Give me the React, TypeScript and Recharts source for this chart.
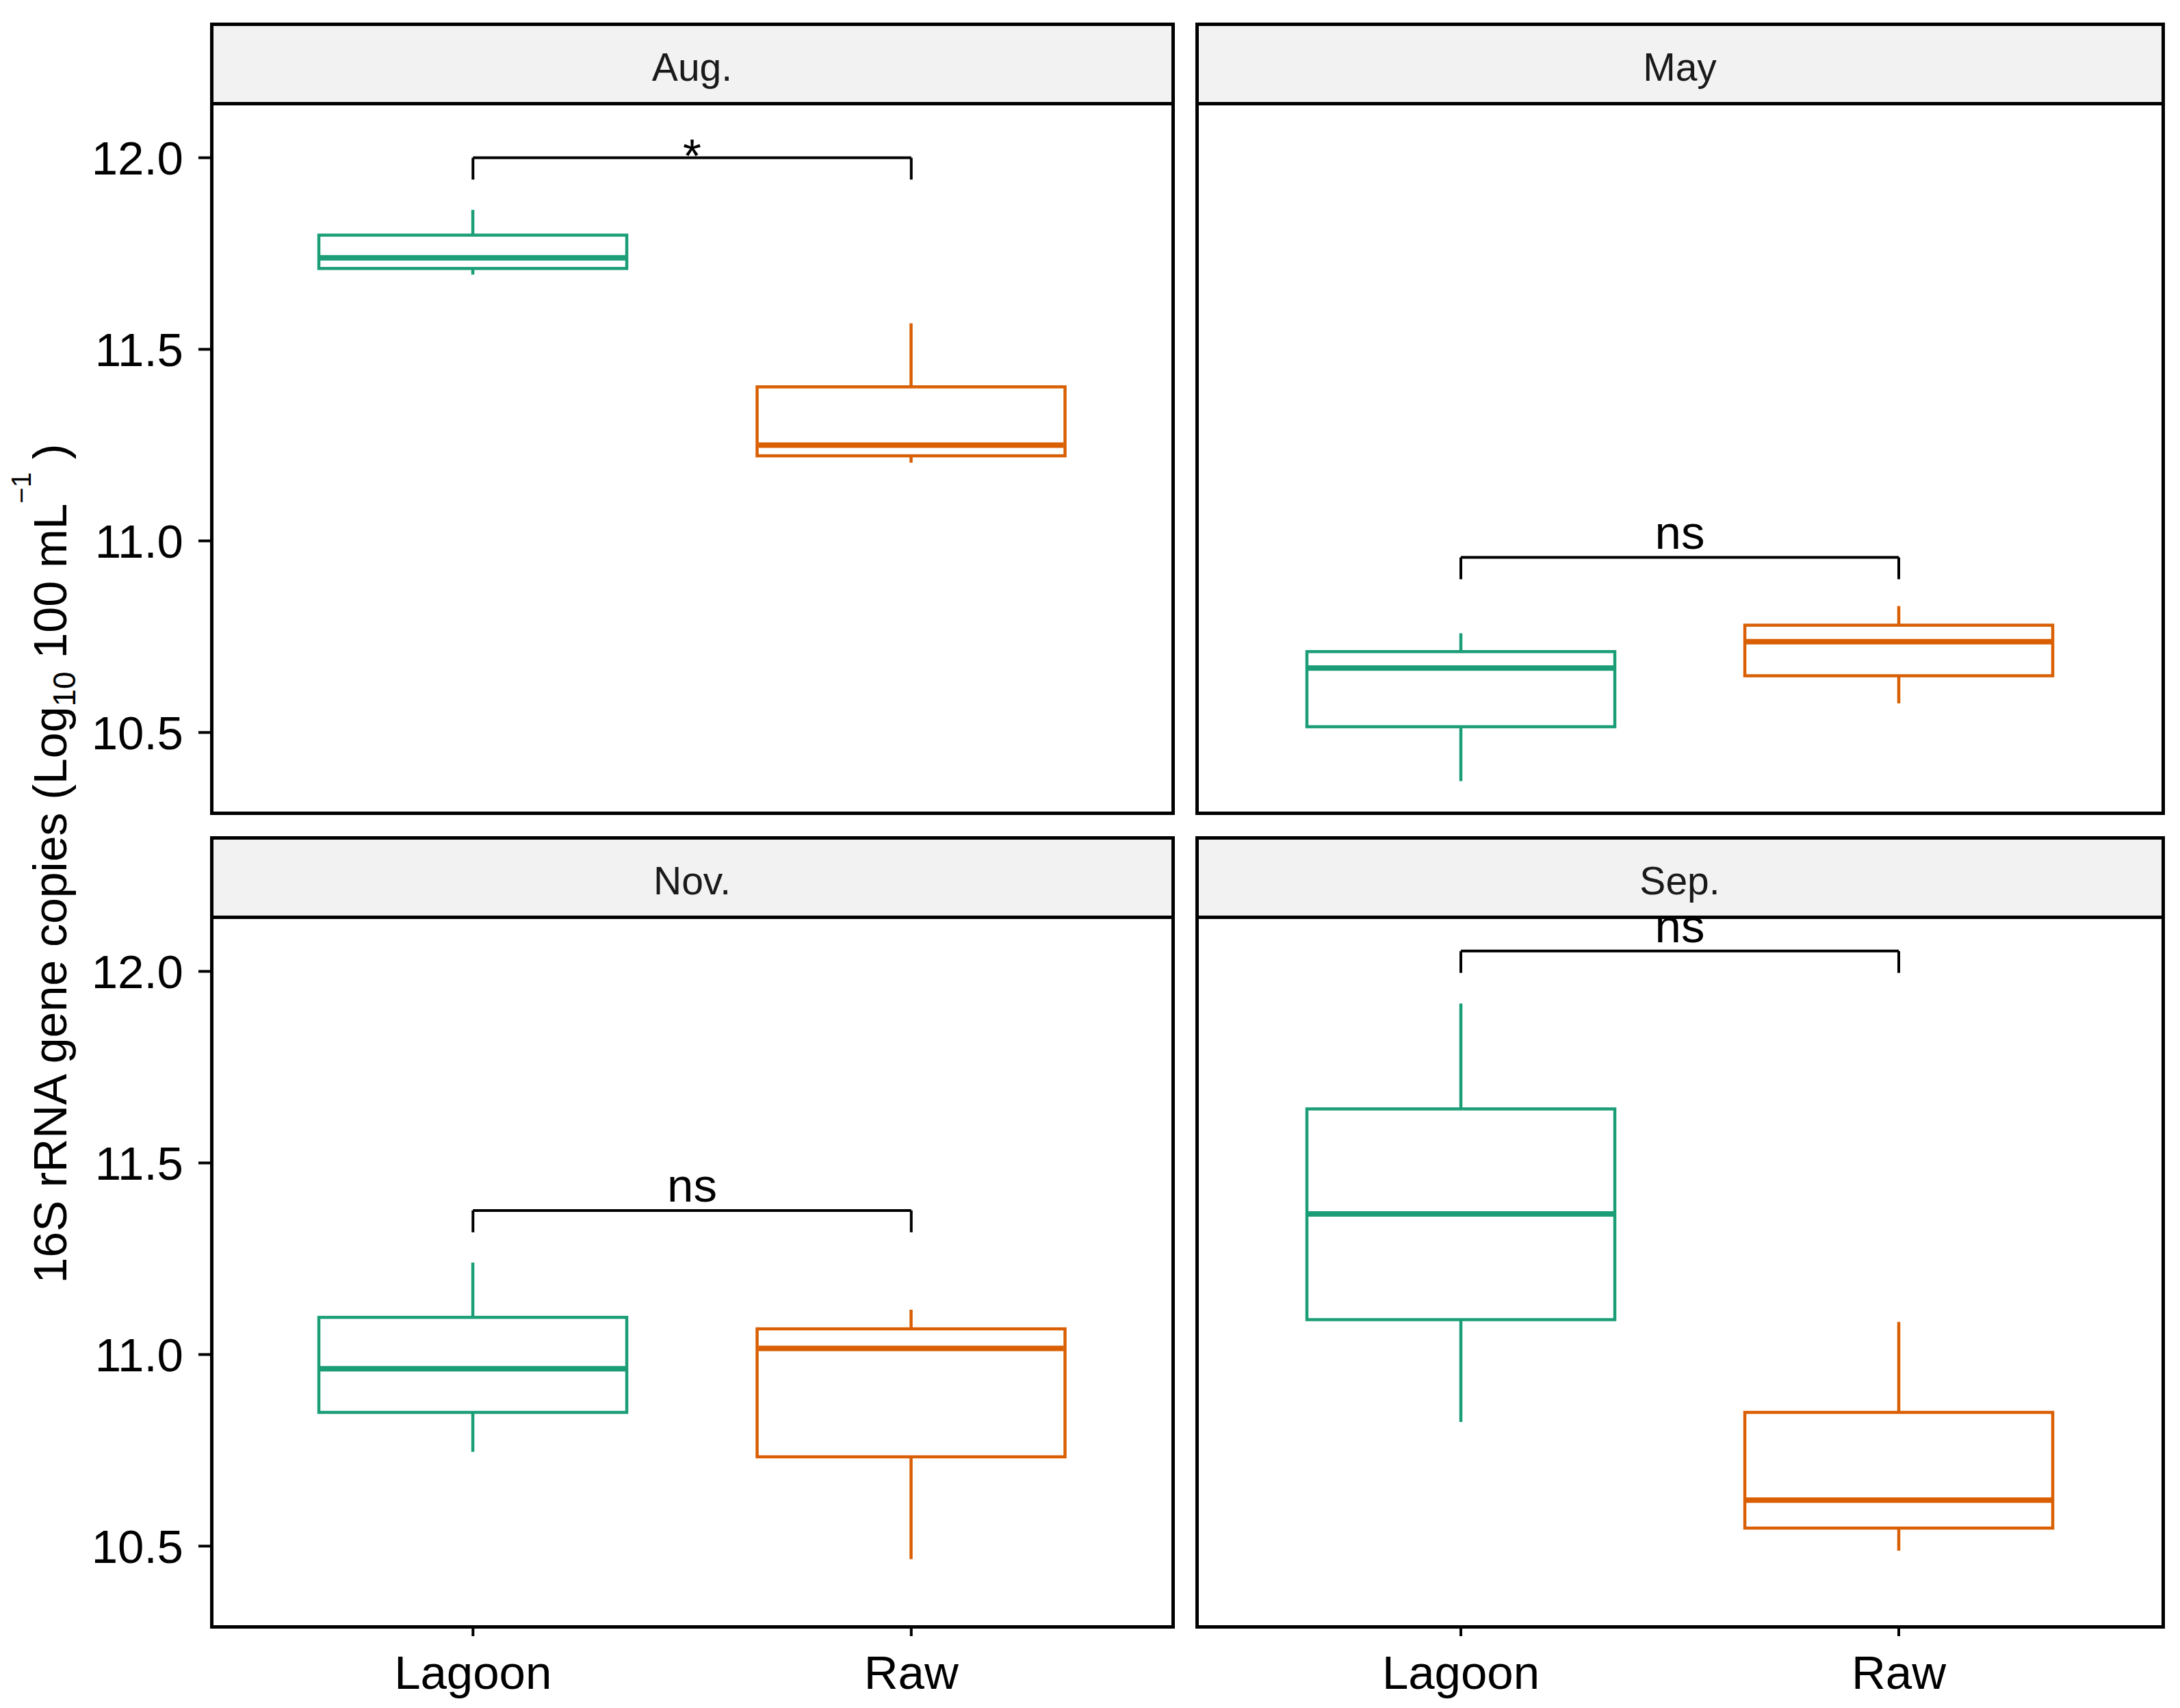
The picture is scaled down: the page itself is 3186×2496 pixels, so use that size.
import React from "react";
import { ComposedChart, Bar, XAxis, YAxis, ReferenceLine } from "recharts";

const FONT = "'Liberation Sans', Arial, Helvetica, sans-serif";

const groups = ["Lagoon", "Raw"];
const months = ["Aug.", "May", "Nov.", "Sep."];

// box stats per group: [min, q1, median, q3, max]
const augLagoon = [11.695, 11.711, 11.739, 11.798, 11.864];
const augRaw = [11.204, 11.222, 11.25, 11.402, 11.568];
const mayLagoon = [10.373, 10.515, 10.668, 10.711, 10.759];
const mayRaw = [10.576, 10.648, 10.737, 10.78, 10.83];
const novLagoon = [10.746, 10.849, 10.963, 11.097, 11.24];
const novRaw = [10.466, 10.733, 11.016, 11.067, 11.117];
const sepLagoon = [10.824, 11.091, 11.367, 11.641, 11.916];
const sepRaw = [10.488, 10.547, 10.62, 10.849, 11.085];

const bracketY = [12.0, 10.957, 11.376, 12.053];
const signif = ["*", "ns", "ns", "ns"];
const tipLength = 0.057;

const yTicks = [10.5, 11.0, 11.5, 12.0];
const yDomain = [10.29, 12.142];

const groupColors: Record<string, string> = { Lagoon: "#1B9E77", Raw: "#D95F02" };

const stats = [
  [augLagoon, augRaw],
  [mayLagoon, mayRaw],
  [novLagoon, novRaw],
  [sepLagoon, sepRaw],
];

// layout (page px)
const PLOT_H = 1037;
const STRIP_H = 116;
const MT = 60;
const Y_AXIS_W = 280;
const X_AXIS_H = 120;
const cols = [
  { x: 309, w: 1405, pad: 62 },
  { x: 1749, w: 1412, pad: 66 },
];
const rows = [151, 1340];

function BoxShape(props: any) {
  const { x, y, width, height, payload } = props;
  const [mn, q1, md, q3, mx] = payload.stats;
  const top = Math.min(y, y + height);
  const h = Math.abs(height);
  const k = h / (mx - mn);
  const py = (v: number) => top + (mx - v) * k;
  const cx = x + width / 2;
  const c = payload.color;
  return (
    <g>
      <line x1={cx} x2={cx} y1={py(mx)} y2={py(q3)} stroke={c} strokeWidth={4.5} />
      <line x1={cx} x2={cx} y1={py(q1)} y2={py(mn)} stroke={c} strokeWidth={4.5} />
      <rect x={x} y={py(q3)} width={width} height={py(q1) - py(q3)} fill="#fff" stroke={c} strokeWidth={4.5} />
      <line x1={x + 2} x2={x + width - 2} y1={py(md)} y2={py(md)} stroke={c} strokeWidth={8} />
    </g>
  );
}

function Panel({ idx, col, row }: { idx: number; col: number; row: number }) {
  const showY = col === 0;
  const showX = row === 1;
  const c = cols[col];
  const top = rows[row];
  const data = groups.map((g, i) => ({
    group: g,
    range: [stats[idx][i][0], stats[idx][i][4]],
    stats: stats[idx][i],
    color: groupColors[g],
  }));
  const yAxisW = showY ? Y_AXIS_W : 0;
  const chartW = yAxisW + c.w;
  const chartH = MT + PLOT_H + (showX ? X_AXIS_H : 0);
  const b = bracketY[idx];
  const label = signif[idx];

  const bracketLabel = (p: any) => {
    const vb = p.viewBox || {};
    const cx = vb.x + vb.width / 2;
    const ty = label === "*" ? vb.y + 20 : vb.y - 13;
    return (
      <text x={cx} y={ty} textAnchor="middle" fontSize={69} fontFamily={FONT} fill="#000">
        {label}
      </text>
    );
  };

  return (
    <>
      <div
        style={{
          position: "absolute",
          left: c.x - 2.5,
          top: top - STRIP_H - 2.5,
          width: c.w + 5,
          height: STRIP_H + 5,
          boxSizing: "border-box",
          border: "5px solid #000",
          background: "#F2F2F2",
          display: "flex",
          alignItems: "center",
          justifyContent: "center",
          paddingTop: 10,
          fontSize: 57,
          color: "#1A1A1A",
          fontFamily: FONT,
        }}
      >
        {months[idx]}
      </div>
      <div style={{ position: "absolute", left: c.x - yAxisW, top: top - MT }}>
        <ComposedChart
          width={chartW}
          height={chartH}
          data={data}
          margin={{ top: MT, right: 0, bottom: 0, left: 0 }}
          barCategoryGap={0}
        >
          <XAxis
            dataKey="group"
            type="category"
            hide={!showX}
            height={X_AXIS_H}
            padding={{ left: c.pad, right: c.pad }}
            axisLine={false}
            tickSize={14}
            tickMargin={28}
            tickLine={{ stroke: "#000", strokeWidth: 4 }}
            tick={{ fontSize: 69, fill: "#000", fontFamily: FONT }}
          />
          <YAxis
            type="number"
            domain={yDomain}
            allowDataOverflow
            ticks={yTicks}
            hide={!showY}
            width={Y_AXIS_W}
            axisLine={false}
            tickSize={19}
            tickMargin={22}
            tickLine={{ stroke: "#000", strokeWidth: 4 }}
            tick={{ fontSize: 69, fill: "#000", fontFamily: FONT }}
            tickFormatter={(v: number) => v.toFixed(1)}
          />
          <Bar dataKey="range" barSize={450} shape={BoxShape} isAnimationActive={false} />
          <ReferenceLine
            segment={[
              { x: groups[0], y: b },
              { x: groups[1], y: b },
            ]}
            stroke="#000"
            strokeWidth={4}
            label={bracketLabel}
          />
          <ReferenceLine
            segment={[
              { x: groups[0], y: b },
              { x: groups[0], y: b - tipLength },
            ]}
            stroke="#000"
            strokeWidth={4}
          />
          <ReferenceLine
            segment={[
              { x: groups[1], y: b },
              { x: groups[1], y: b - tipLength },
            ]}
            stroke="#000"
            strokeWidth={4}
          />
        </ComposedChart>
      </div>
      <div
        style={{
          position: "absolute",
          left: c.x - 2.5,
          top: top - 2.5,
          width: c.w + 5,
          height: PLOT_H + 5,
          boxSizing: "border-box",
          border: "5px solid #000",
          pointerEvents: "none",
        }}
      />
    </>
  );
}

export default function App() {
  return (
    <div
      style={{
        position: "absolute",
        left: 0,
        top: 0,
        width: 3186,
        height: 2496,
        background: "#fff",
        fontFamily: FONT,
      }}
    >
      <svg width={200} height={2496} style={{ position: "absolute", left: 0, top: 0 }}>
        <text
          x={97}
          y={1262}
          transform="rotate(-90, 97, 1262)"
          textAnchor="middle"
          fontSize={68}
          fontFamily={FONT}
          fill="#000"
        >
          16S rRNA gene copies (Log
          <tspan fontSize={46} dy={13}>10</tspan>
          <tspan dy={-13}> 100 mL</tspan>
          <tspan fontSize={40} dy={-52}>−1</tspan>
          <tspan dy={52}> )</tspan>
        </text>
      </svg>
      <Panel idx={0} col={0} row={0} />
      <Panel idx={1} col={1} row={0} />
      <Panel idx={2} col={0} row={1} />
      <Panel idx={3} col={1} row={1} />
    </div>
  );
}
